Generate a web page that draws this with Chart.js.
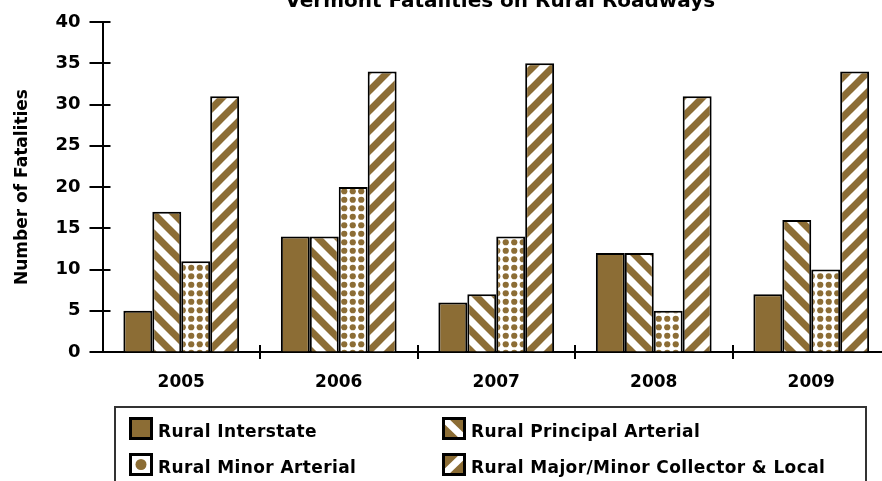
<!DOCTYPE html>
<html>
<head>
<meta charset="utf-8">
<script src="https://cdn.jsdelivr.net/npm/chart.js@4.4.0/dist/chart.umd.min.js"></script>
<style>
  html, body { margin: 0; padding: 0; overflow: hidden; background: #fff; }
  canvas { display: block; }
</style>
</head>
<body>
<canvas id="fatalChart" width="890" height="481"></canvas>
<script>
// data
var years = ['2005', '2006', '2007', '2008', '2009'];
var interstate = [5, 14, 6, 12, 7];
var principal = [17, 14, 7, 12, 16];
var minorArt = [11, 20, 14, 5, 10];
var collector = [31, 34, 35, 31, 34];
var seriesNames = ['Rural Interstate', 'Rural Principal Arterial', 'Rural Minor Arterial', 'Rural Major/Minor Collector & Local'];
var chartTitle = 'Vermont Fatalities on Rural Roadways';
var yAxisTitle = 'Number of Fatalities';

var brown = '#8C6D35';
var FONT = '"DejaVu Sans"';

function stripes(dir) {
  var s = 20, c = document.createElement('canvas');
  c.width = s; c.height = s;
  var g = c.getContext('2d');
  g.fillStyle = '#fff'; g.fillRect(0, 0, s, s);
  g.strokeStyle = brown; g.lineWidth = 7;
  for (var k = -1; k <= 1; k++) {
    g.beginPath();
    if (dir > 0) { g.moveTo(k * s - 5, s + 5); g.lineTo(k * s + s + 5, -5); }
    else { g.moveTo(k * s - 5, -5); g.lineTo(k * s + s + 5, s + 5); }
    g.stroke();
  }
  return g.createPattern(c, 'repeat');
}

function dots() {
  var s = 17, c = document.createElement('canvas');
  c.width = s; c.height = s;
  var g = c.getContext('2d');
  g.fillStyle = '#fff'; g.fillRect(0, 0, s, s);
  g.fillStyle = brown;
  [[4.25, 4.25], [12.75, 4.25], [4.25, 12.75], [12.75, 12.75]].forEach(function (p) {
    g.beginPath(); g.arc(p[0], p[1], 3.1, 0, Math.PI * 2); g.fill();
  });
  return g.createPattern(c, 'repeat');
}

// axis tick marks that cross the axis lines
var crossTicks = {
  id: 'crossTicks',
  afterDraw: function (chart) {
    var ctx = chart.ctx, x = chart.scales.x, y = chart.scales.y;
    ctx.save();
    ctx.strokeStyle = '#000'; ctx.lineWidth = 2;
    y.ticks.forEach(function (t, i) {
      var py = Math.round(y.getPixelForTick(i));
      ctx.beginPath(); ctx.moveTo(x.left - 13, py); ctx.lineTo(x.left + 8, py); ctx.stroke();
    });
    for (var i = 1; i <= years.length; i++) {
      var px = Math.round(x.getPixelForValue(i - 0.5));
      ctx.beginPath(); ctx.moveTo(px, y.bottom - 7); ctx.lineTo(px, y.bottom + 7); ctx.stroke();
    }
    ctx.restore();
  }
};

// title, clipped at top like the reference
var topTitle = {
  id: 'topTitle',
  afterDraw: function (chart) {
    var ctx = chart.ctx, a = chart.chartArea;
    ctx.save();
    ctx.font = 'bold 20px ' + FONT;
    ctx.fillStyle = '#000';
    ctx.textAlign = 'center';
    ctx.textBaseline = 'alphabetic';
    ctx.fillText(chartTitle, (a.left + a.right) / 2 + 4, 7);
    ctx.restore();
  }
};

// boxed two-column legend
var boxLegend = {
  id: 'boxLegend',
  afterDraw: function (chart) {
    var ctx = chart.ctx;
    ctx.save();
    ctx.strokeStyle = '#333'; ctx.lineWidth = 2;
    ctx.strokeRect(115, 407, 751, 90);
    var cols = [129, 442], rows = [417, 453];
    chart.data.datasets.forEach(function (ds, i) {
      var ix = cols[i % 2], iy = rows[Math.floor(i / 2)], w = 24, h = 23;
      ctx.save();
      ctx.beginPath(); ctx.rect(ix, iy, w, h); ctx.clip();
      if (i === 0) { ctx.fillStyle = brown; ctx.fillRect(ix, iy, w, h); }
      else if (i === 2) {
        ctx.fillStyle = '#fff'; ctx.fillRect(ix, iy, w, h);
        ctx.fillStyle = brown; ctx.beginPath(); ctx.arc(ix + w / 2, iy + h / 2, 5.5, 0, Math.PI * 2); ctx.fill();
      } else {
        ctx.fillStyle = brown; ctx.fillRect(ix, iy, w, h);
        ctx.strokeStyle = '#fff'; ctx.lineWidth = 7;
        ctx.beginPath();
        if (i === 1) { ctx.moveTo(ix, iy); ctx.lineTo(ix + w, iy + h); }
        else { ctx.moveTo(ix, iy + h); ctx.lineTo(ix + w, iy); }
        ctx.stroke();
      }
      ctx.restore();
      ctx.strokeStyle = '#000'; ctx.lineWidth = 3;
      ctx.strokeRect(ix + 1.5, iy + 1.5, w - 3, h - 3);
      ctx.fillStyle = '#000';
      ctx.font = 'bold 17px ' + FONT;
      ctx.letterSpacing = '0.4px';
      ctx.textBaseline = 'middle';
      ctx.fillText(ds.label, ix + 29, iy + h / 2 + 4);
    });
    ctx.restore();
  }
};

new Chart(document.getElementById('fatalChart').getContext('2d'), {
  type: 'bar',
  data: {
    labels: years,
    datasets: [
      { label: seriesNames[0], data: interstate, backgroundColor: brown },
      { label: seriesNames[1], data: principal, backgroundColor: stripes(-1) },
      { label: seriesNames[2], data: minorArt, backgroundColor: dots() },
      { label: seriesNames[3], data: collector, backgroundColor: stripes(1) }
    ]
  },
  options: {
    responsive: false,
    animation: false,
    layout: { padding: { top: 22, right: 0, left: 0, bottom: 0 } },
    datasets: { bar: { categoryPercentage: 0.735, barPercentage: 1, borderColor: '#000', borderWidth: 2 } },
    plugins: { legend: { display: false }, tooltip: { enabled: false } },
    scales: {
      x: {
        grid: { drawOnChartArea: false, drawTicks: false },
        border: { color: '#000', width: 2 },
        ticks: { font: { family: FONT, size: 17, weight: 'bold' }, color: '#000', padding: 20 },
        afterFit: function (s) { s.height = 129; }
      },
      y: {
        min: 0, max: 40,
        ticks: { stepSize: 5, font: { family: FONT, size: 18, weight: 'bold' }, color: '#000', padding: 0 },
        grid: { drawOnChartArea: false, drawTicks: true, tickLength: 22, tickColor: 'rgba(0,0,0,0)' },
        border: { color: '#000', width: 2 },
        title: { display: true, text: yAxisTitle, font: { family: FONT, size: 17, weight: 'bold' }, color: '#000', padding: { top: 12, bottom: 0 } },
        afterFit: function (s) { s.width = 102.5; }
      }
    }
  },
  plugins: [crossTicks, topTitle, boxLegend]
});
</script>
</body>
</html>
